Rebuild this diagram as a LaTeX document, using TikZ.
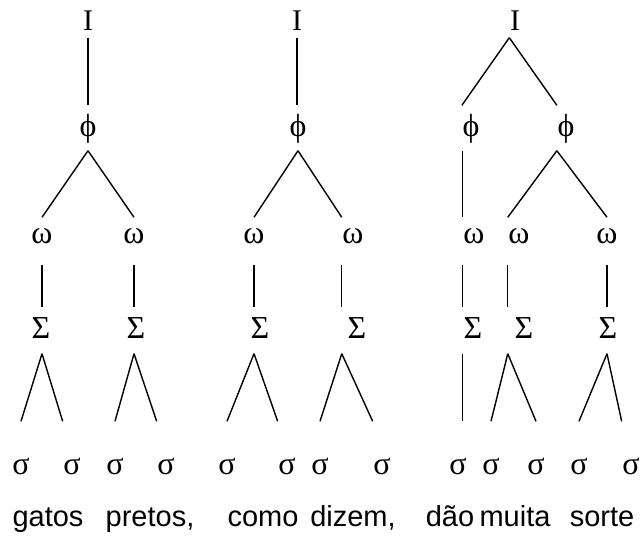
\documentclass[tikz,border=0pt]{standalone}
\usepackage{fontspec}
\setmainfont{Liberation Serif}
\newfontfamily\wordfont{Liberation Sans}

\begin{document}
\begin{tikzpicture}
  [x=1pt,y=-1pt,line width=1.4pt,
   every node/.style={inner sep=0pt,anchor=base,font=\fontsize{32}{38}\selectfont},
   intl/.style={text height=20pt,text depth=7pt,font=\fontsize{30}{36}\selectfont},
   phon/.style={text height=30pt,text depth=14pt},
   pwrd/.style={text height=25pt,text depth=21pt},
   foot/.style={text height=30pt,text depth=15pt},
   syll/.style={text height=52pt,text depth=0pt},
   word/.style={font=\wordfont\fontsize{29}{34}\selectfont}]
  \useasboundingbox (0,0) rectangle (642,536);
  % intonational phrases
  \node[intl] (I1) at (88,30) {I};
  \node[intl] (I2) at (297,30) {I};
  \node[intl] (I3) at (515,30) {I};
  % phonological phrases
  \node[phon] (p1) at (88,136) {ϕ};
  \node[phon] (p2) at (298,136) {ϕ};
  \node[phon] (p3) at (471,136) {ϕ};
  \node[phon] (p4) at (566,136) {ϕ};
  % prosodic words
  \node[pwrd] (w1) at (42,243) {ω};
  \node[pwrd] (w2) at (134,243) {ω};
  \node[pwrd] (w3) at (254,243) {ω};
  \node[pwrd] (w4) at (353,243) {ω};
  \node[pwrd] (w5) at (474,243) {ω};
  \node[pwrd] (w6) at (519,243) {ω};
  \node[pwrd] (w7) at (607,243) {ω};
  % feet
  \node[foot] (f1) at (41,338) {Σ};
  \node[foot] (f2) at (136,338) {Σ};
  \node[foot] (f3) at (260,338) {Σ};
  \node[foot] (f4) at (357,338) {Σ};
  \node[foot] (f5) at (473,338) {Σ};
  \node[foot] (f6) at (524,338) {Σ};
  \node[foot] (f7) at (608,338) {Σ};
  % syllables
  \node[syll] (s1) at (21,474) {σ};
  \node[syll] (s2) at (72,474) {σ};
  \node[syll] (s3) at (115,474) {σ};
  \node[syll] (s4) at (166,474) {σ};
  \node[syll] (s5) at (227,474) {σ};
  \node[syll] (s6) at (287,474) {σ};
  \node[syll] (s7) at (320,474) {σ};
  \node[syll] (s8) at (382,474) {σ};
  \node[syll] (s9) at (458,474) {σ};
  \node[syll] (s10) at (491,474) {σ};
  \node[syll] (s11) at (536,474) {σ};
  \node[syll] (s12) at (579,474) {σ};
  \node[syll] (s13) at (631,474) {σ};
  % the sentence
  \node[word] (gatos) at (48,526) {gatos};
  \node[word] (pretos) at (150,526) {pretos,};
  \node[word] (como) at (263,526) {como};
  \node[word] (dizem) at (353,526) {dizem,};
  \node[word] (dao) at (450,526) {dão};
  \node[word] (muita) at (515,526) {muita};
  \node[word] (sorte) at (602,526) {sorte};

  \foreach \from/\to in {I1.south/I1.south |- p1.north,
              p1.south/w1.north,p1.south/w2.north,
              w1.south/w1.south |- f1.north,w2.south/w2.south |- f2.north,
              w1.south |- f1.south/s1.north,w1.south |- f1.south/s2.north west,
              w2.south |- f2.south/s3.north,w2.south |- f2.south/s4.north west,
              I2.south/I2.south |- p2.north,
              p2.south/w3.north,p2.south/w4.north west,
              w3.south/w3.south |- f3.north,w4.south west/w4.south west |- f4.north,
              w3.south |- f3.south/s5.north,w3.south |- f3.south/s6.north west,
              w4.south west |- f4.south/s7.north,w4.south west |- f4.south/s8.north west,
              I3.south west/p3.north west,I3.south west/p4.north west,
              w5.north west |- p3.south/w5.north west,
              p4.south west/w6.north west,p4.south west/w7.north,
              w5.south west/w5.south west |- f5.north,
              w6.south west/w6.south west |- f6.north,
              w7.south/w7.south |- f7.north,
              w5.south west |- f5.south/w5.south west |- s9.north,
              w6.south west |- f6.south/s10.north,w6.south west |- f6.south/s11.north,
              w7.south |- f7.south/s12.north,w7.south |- f7.south/s13.north west}
    \draw (\from) -- (\to);

\end{tikzpicture}
\end{document}
